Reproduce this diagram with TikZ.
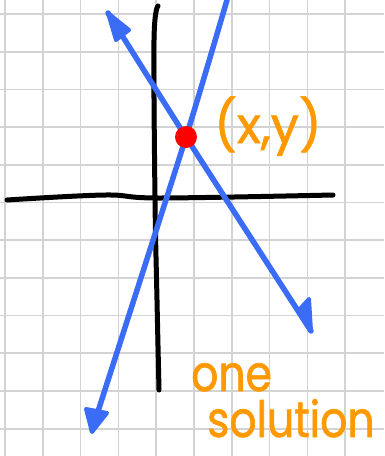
\documentclass[tikz,border=0pt]{standalone}
\usepackage{fontspec}
\newfontfamily\hand{Poppins}[FakeStretch=0.85,FakeBold=1.2]
\newfontfamily\handwide{Poppins}[FakeBold=1.2]
\definecolor{gridgray}{RGB}{211,211,211}
\definecolor{penblue}{RGB}{58,108,246}
\definecolor{penorange}{RGB}{255,153,0}
\definecolor{penred}{RGB}{255,0,0}
\begin{document}
\begin{tikzpicture}[x=1pt,y=-1pt,
 gridline/.style={gridgray,line width=1.7pt},
 axisline/.style={black,line width=5pt,line cap=round,line join=round},
 bluepen/.style={penblue,line width=5.5pt,line cap=round,line join=round},
 bluehead/.style={penblue,fill=penblue,line width=4pt,line join=round},
 orangetext/.style={penorange,inner sep=0pt,align=left,font=\hand\fontsize{50}{46}\selectfont},
 orangewide/.style={penorange,inner sep=0pt,font=\handwide\fontsize{50}{56}\selectfont}]
\fill[white] (0,0) rectangle (384,456);
\useasboundingbox (0,0) rectangle (384,456);
\foreach \i in {0,...,9} \draw[gridline] (5+37.8*\i,0) -- (5+37.8*\i,456);
\foreach \j in {0,...,11} \draw[gridline] (0,14+37.7*\j) -- (384,14+37.7*\j);
% axes
\draw[axisline] plot[smooth,tension=0.6] coordinates {(7,200) (105,195) (160,198) (333,195)};
\draw[axisline] plot[smooth,tension=0.6] coordinates {(158,6) (154,40) (155,199) (157,300) (159,390)};
% intersection
\coordinate (P) at (186,137);
% steep line
\draw[bluepen] plot[smooth,tension=0.4] coordinates {(227,0) (P) (92,430)};
\draw[bluehead] (86,409) -- (107,413) -- (92,432) -- cycle;
% falling line
\draw[bluepen] plot[smooth,tension=0.4] coordinates {(108,13) (P) (311,331)};
\draw[bluehead] (108,13) -- (116,40) -- (129,30) -- cycle;
\draw[bluehead] (311,331) -- (298,311) -- (309,299) -- cycle;
\node[circle,fill=penred,inner sep=0pt,minimum size=22pt] (dot) at (P) {};
% labels
\node[orangewide,anchor=base west] (xy) at (214,143) {(x,y)};
\node[orangetext,anchor=base west] (sol) at (191,437) {one\\\hspace*{16pt}solution};
\end{tikzpicture}
\end{document}
